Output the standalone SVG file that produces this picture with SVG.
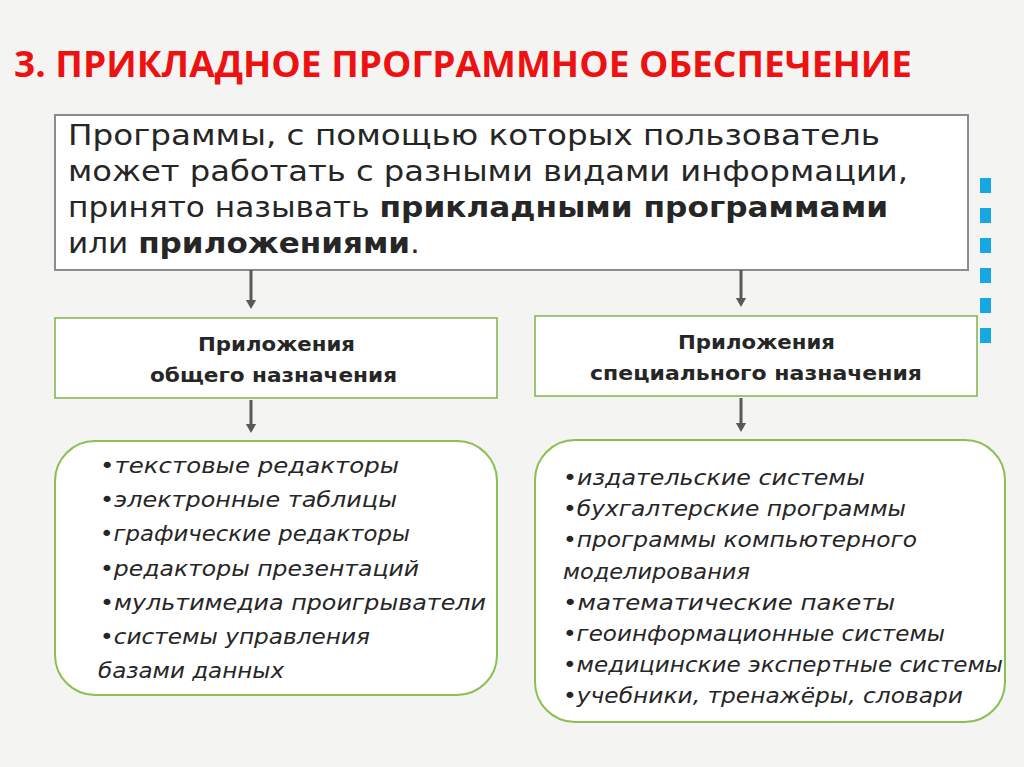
<svg xmlns="http://www.w3.org/2000/svg" width="1024" height="767" viewBox="0 0 1024 767">
<style>
.t{font-family:"DejaVu Sans","Liberation Sans",sans-serif;fill:#262626}
.main{font-size:28px}
.h{font-size:20px;font-weight:bold}
.li{font-size:21px;font-style:italic}
.box{fill:#fff;stroke:#7fb24a;stroke-width:1.5}
.rbox{fill:#fff;stroke:#8cbf52;stroke-width:2}
.con{stroke:#595959;stroke-width:3;fill:none;marker-end:url(#a)}
.sq{fill:#16a8e2}
</style>
<defs><marker id="a" markerWidth="4" markerHeight="4" refX="2" refY="2" orient="auto" markerUnits="strokeWidth"><path d="M0,0.3 L3,2 L0,3.7z" fill="#595959"/></marker></defs>
<rect width="1024" height="767" fill="#f4f5f2"/>
<text x="14" y="77" font-family="'Open Sans','Liberation Sans',sans-serif" font-weight="bold" font-size="36" fill="#ee1111" textLength="898" lengthAdjust="spacingAndGlyphs">3. ПРИКЛАДНОЕ ПРОГРАММНОЕ ОБЕСПЕЧЕНИЕ</text>
<g id="squares"><rect class="sq" x="980" y="178" width="11" height="15"/><rect class="sq" x="980" y="208" width="11" height="15"/><rect class="sq" x="980" y="238" width="11" height="15"/><rect class="sq" x="980" y="268" width="11" height="15"/><rect class="sq" x="980" y="298" width="11" height="15"/><rect class="sq" x="980" y="328" width="11" height="15"/></g>
<g id="top"><rect x="55" y="115" width="913" height="155" fill="#fff" stroke="#8c8c8c" stroke-width="2"/>
<text class="t main" x="68" y="145" textLength="812" lengthAdjust="spacingAndGlyphs">Программы, с помощью которых пользователь</text>
<text class="t main" x="68" y="181" textLength="840" lengthAdjust="spacingAndGlyphs">может работать с разными видами информации,</text>
<text class="t main" x="68" y="217" textLength="820" lengthAdjust="spacingAndGlyphs">принято называть <tspan font-weight="bold">прикладными программами</tspan></text>
<text class="t main" x="68" y="253" textLength="352" lengthAdjust="spacingAndGlyphs">или <tspan font-weight="bold">приложениями</tspan>.</text></g>
<g id="connectors">
<line class="con" x1="251" y1="270" x2="251" y2="306"/>
<line class="con" x1="741" y1="270" x2="741" y2="304"/>
<line class="con" x1="251" y1="400" x2="251" y2="430"/>
<line class="con" x1="741" y1="398" x2="741" y2="429"/>
</g>
<g id="general"><rect class="box" x="55" y="318" width="442" height="80"/>
<text class="t h" x="198" y="351" textLength="157" lengthAdjust="spacingAndGlyphs">Приложения</text><text class="t h" x="150" y="382" textLength="247" lengthAdjust="spacingAndGlyphs">общего назначения</text></g>
<g id="special"><rect class="box" x="535" y="316" width="442" height="80"/>
<text class="t h" x="678" y="349" textLength="157" lengthAdjust="spacingAndGlyphs">Приложения</text><text class="t h" x="590" y="380" textLength="332" lengthAdjust="spacingAndGlyphs">специального назначения</text></g>
<g id="generalList"><rect class="rbox" x="55" y="441" width="442" height="254" rx="40"/>
<text class="t li" x="100" y="473" textLength="299" lengthAdjust="spacingAndGlyphs">•текстовые редакторы</text>
<text class="t li" x="100" y="507" textLength="297" lengthAdjust="spacingAndGlyphs">•электронные таблицы</text>
<text class="t li" x="100" y="541" textLength="310" lengthAdjust="spacingAndGlyphs">•графические редакторы</text>
<text class="t li" x="100" y="576" textLength="319" lengthAdjust="spacingAndGlyphs">•редакторы презентаций</text>
<text class="t li" x="100" y="610" textLength="386" lengthAdjust="spacingAndGlyphs">•мультимедиа проигрыватели</text>
<text class="t li" x="100" y="644" textLength="270" lengthAdjust="spacingAndGlyphs">•системы управления</text>
<text class="t li" x="98" y="678" textLength="186" lengthAdjust="spacingAndGlyphs">базами данных</text></g>
<g id="specialList"><rect class="rbox" x="535" y="440" width="470" height="282" rx="40"/>
<text class="t li" x="563" y="485" textLength="302" lengthAdjust="spacingAndGlyphs">•издательские системы</text>
<text class="t li" x="563" y="516" textLength="343" lengthAdjust="spacingAndGlyphs">•бухгалтерские программы</text>
<text class="t li" x="563" y="547" textLength="354" lengthAdjust="spacingAndGlyphs">•программы компьютерного</text>
<text class="t li" x="563" y="579" textLength="187" lengthAdjust="spacingAndGlyphs">моделирования</text>
<text class="t li" x="563" y="610" textLength="332" lengthAdjust="spacingAndGlyphs">•математические пакеты</text>
<text class="t li" x="563" y="641" textLength="382" lengthAdjust="spacingAndGlyphs">•геоинформационные системы</text>
<text class="t li" x="563" y="672" textLength="440" lengthAdjust="spacingAndGlyphs">•медицинские экспертные системы</text>
<text class="t li" x="563" y="703" textLength="400" lengthAdjust="spacingAndGlyphs">•учебники, тренажёры, словари</text></g>
</svg>
